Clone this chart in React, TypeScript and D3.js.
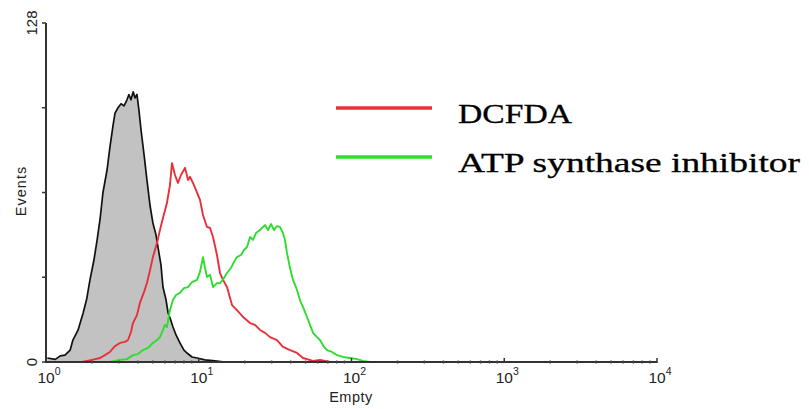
import React from "react";
import * as d3 from "d3";

// ---- data (fluorescence intensity, event count) ----
const controlIntensity = [1.02, 1.15, 1.24, 1.33, 1.44, 1.5, 1.62, 1.75, 1.85, 1.94, 2.06, 2.16, 2.26, 2.36, 2.51, 2.62, 2.75, 2.83, 2.96, 3.1, 3.24, 3.39, 3.49, 3.6, 3.72, 3.83, 3.94, 4.06, 4.19, 4.39, 4.58, 4.8, 5.01, 5.25, 5.41, 5.66, 5.83, 6.11, 6.3, 6.49, 6.78, 7.1, 7.53, 8.0, 8.37, 9.04, 9.75, 10.96, 12.76, 14.8];
const controlCounts = [1.5, 1, 2.3, 2.6, 4.5, 8.3, 12, 18.5, 24, 31, 38.5, 46, 54, 64, 72.5, 81, 89.5, 94, 96, 97.5, 96.7, 99, 101, 99, 102, 99.7, 101, 95, 87.6, 78, 68.7, 59, 52.5, 48, 43.4, 36.6, 28.3, 23.4, 18.5, 16.6, 13.2, 10.2, 7.2, 4.5, 3.4, 1.9, 1.5, 0.8, 0.4, 0];

const dcfdaIntensity = [1.72, 2.0, 2.26, 2.43, 2.62, 2.83, 3.05, 3.29, 3.44, 3.6, 3.71, 3.94, 4.12, 4.38, 4.58, 4.8, 5.01, 5.33, 5.57, 5.83, 6.19, 6.48, 6.68, 6.99, 7.31, 7.65, 8.13, 8.51, 8.77, 9.17, 9.6, 10.19, 10.66, 11.32, 11.86, 12.4, 13.16, 13.78, 14.42, 15.31, 16.51, 17.78, 19.5, 21.67, 23.35, 25.17, 27.15, 29.27, 32.5, 35.6, 39.6, 44.0, 48.1, 56.0, 62.2, 72.3];
const dcfdaCounts = [0, 0.8, 1.5, 2.6, 3.8, 6.0, 7.2, 7.6, 8.3, 11.3, 14.7, 17.7, 22.3, 26.4, 29.8, 34.7, 39.6, 44.9, 49.8, 54.4, 60.0, 66.8, 75.1, 70.6, 67.6, 70.6, 73.3, 68.7, 69.9, 67.6, 64.9, 61.2, 55.5, 51.0, 50.6, 47.2, 40.4, 33.6, 31.0, 28.3, 21.5, 19.6, 17.0, 14.7, 14.0, 12.1, 11.0, 9.4, 8.3, 5.7, 4.5, 3.4, 1.5, 0.4, 0.8, 0];

const atpIntensity = [2.62, 3.05, 3.39, 3.71, 4.0, 4.31, 4.65, 5.01, 5.33, 5.57, 5.83, 6.01, 6.19, 6.48, 6.78, 7.1, 7.53, 8.0, 8.51, 9.04, 9.75, 10.19, 10.66, 10.99, 11.32, 11.86, 12.4, 13.16, 13.78, 14.63, 15.31, 16.26, 17.01, 17.78, 18.91, 19.78, 20.7, 21.67, 22.65, 23.71, 25.17, 26.35, 27.15, 28.41, 29.72, 31.1, 32.5, 34.0, 35.6, 36.7, 37.8, 39.6, 41.4, 44.0, 46.0, 48.1, 51.1, 53.5, 56.0, 59.4, 62.2, 66.1, 69.2, 74.5, 80.4, 87.9, 97.7, 108.7, 118.9, 132.1];
const atpCounts = [0, 0.8, 1.1, 2.6, 3.0, 4.5, 5.3, 7.2, 8.3, 9.4, 12.1, 14.0, 13.2, 19.6, 23.4, 25.3, 26.1, 27.9, 28.3, 30.2, 31.0, 34.0, 39.6, 35.5, 32.1, 32.9, 28.3, 29.8, 29.8, 31.7, 33.6, 35.5, 37.8, 39.6, 40.4, 42.3, 43.4, 47.2, 46.1, 48.7, 49.8, 51.0, 51.7, 49.8, 52.1, 49.8, 51.3, 51.0, 48.7, 46.1, 41.2, 35.5, 31.0, 27.2, 23.4, 20.8, 17.0, 14.0, 11.0, 9.4, 8.3, 5.7, 4.5, 3.8, 2.6, 1.9, 1.5, 1.1, 0.4, 0];

const yTicks = [0, 32, 64, 96, 128];
const yTickLabels = ["0", "", "", "", "128"];
const xDecades = [1, 10, 100, 1000, 10000];
const xDecadeExps = ["0", "1", "2", "3", "4"];
const legendLabels = ["DCFDA", "ATP synthase inhibitor"];
const legendColors = ["#e8303a", "#2fdc2f"];

const W = 809;
const H = 409;

export default function App() {
  const x = d3.scaleLog().domain([1, 10000]).range([46, 657]);
  const y = d3.scaleLinear().domain([0, 128]).range([362, 23]);

  const pts = (xs: number[], ys: number[]) => xs.map((v, i) => [v, ys[i]] as [number, number]);

  const area = d3
    .area<[number, number]>()
    .x((d) => x(d[0]))
    .y0(y(0))
    .y1((d) => y(d[1]));
  const line = d3
    .line<[number, number]>()
    .x((d) => x(d[0]))
    .y((d) => y(d[1]));

  const control = pts(controlIntensity, controlCounts);
  const dcfda = pts(dcfdaIntensity, dcfdaCounts);
  const atp = pts(atpIntensity, atpCounts);

  const minor: number[] = [];
  for (let i = 0; i < 4; i++) {
    for (let k = 2; k <= 9; k++) minor.push(xDecades[i] * k);
  }

  const axisColor = "#333";
  const sans = "'Liberation Sans', Arial, sans-serif";

  return (
    <svg
      width={W}
      height={H}
      style={{ position: "absolute", left: 0, top: 0, background: "#fff" }}
    >
      <rect width={W} height={H} fill="#fff" />
      {/* control histogram */}
      <path d={area(control) || ""} fill="#c2c2c2" stroke="none" />
      <path d={line(control) || ""} fill="none" stroke="#111" strokeWidth={1.7} strokeLinejoin="round" />
      {/* DCFDA */}
      <path d={line(dcfda) || ""} fill="none" stroke={legendColors[0]} strokeWidth={1.9} strokeLinejoin="round" />
      {/* ATP synthase inhibitor */}
      <path d={line(atp) || ""} fill="none" stroke={legendColors[1]} strokeWidth={1.9} strokeLinejoin="round" />

      {/* axes */}
      <line x1={x(1)} x2={x(10000)} y1={y(0)} y2={y(0)} stroke={axisColor} strokeWidth={2} />
      <line x1={x(1)} x2={x(1)} y1={y(128)} y2={y(0) + 1} stroke={axisColor} strokeWidth={2} />
      {yTicks.map((t, i) => (
        <g key={"yt" + i}>
          <line x1={x(1) - 4} x2={x(1)} y1={y(t)} y2={y(t)} stroke={axisColor} strokeWidth={1.5} />
          {yTickLabels[i] && (
            <text
              transform={`translate(37,${y(t)}) rotate(-90)`}
              textAnchor="middle"
              fontFamily={sans}
              fontSize={15}
              fill="#222"
            >
              {yTickLabels[i]}
            </text>
          )}
        </g>
      ))}
      {minor.map((m, i) => (
        <line key={"mn" + i} x1={x(m)} x2={x(m)} y1={y(0) - 1.5} y2={y(0) + 1.5} stroke="#444" strokeWidth={1.5} />
      ))}
      {xDecades.map((d, i) => (
        <g key={"xd" + i}>
          <line x1={x(d)} x2={x(d)} y1={y(0) - 4} y2={y(0) + 1} stroke={axisColor} strokeWidth={1.5} />
          <text x={x(d) + 3} y={383} textAnchor="middle" fontFamily={sans} fontSize={15.5} fill="#222">
            10
            <tspan fontSize={10.5} dy={-8}>
              {xDecadeExps[i]}
            </tspan>
          </text>
        </g>
      ))}
      <text x={351} y={402} textAnchor="middle" fontFamily={sans} fontSize={14.5} letterSpacing={0.5} fill="#222">
        Empty
      </text>
      <text
        transform="translate(26,191) rotate(-90)"
        textAnchor="middle"
        fontFamily={sans}
        fontSize={14.5}
        letterSpacing={1}
        fill="#222"
      >
        Events
      </text>

      {/* legend */}
      {legendLabels.map((lab, i) => (
        <g key={"lg" + i}>
          <line
            x1={336}
            x2={432}
            y1={108 + i * 49}
            y2={108 + i * 49}
            stroke={legendColors[i]}
            strokeWidth={3.5}
          />
          <text
            x={458}
            y={123 + i * 49}
            fontFamily="'Liberation Serif', 'Times New Roman', serif"
            fontSize={28}
            fill="#000"
            stroke="#000"
            strokeWidth={0.3}
            textLength={i === 0 ? 114 : 342}
            lengthAdjust="spacingAndGlyphs"
          >
            {lab}
          </text>
        </g>
      ))}
    </svg>
  );
}
